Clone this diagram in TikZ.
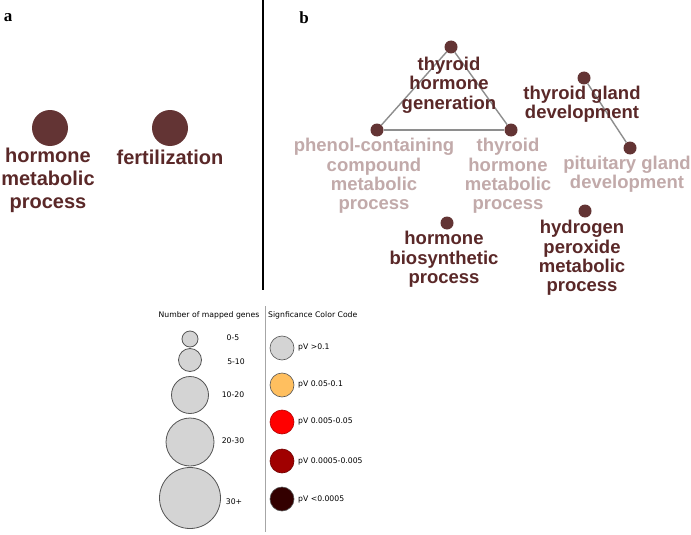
\documentclass[tikz,border=0pt]{standalone}
\usepackage{fontspec}
\newfontfamily\labfont{Liberation Sans}
\newfontfamily\legfont{DejaVu Sans}
\newfontfamily\panfont{Liberation Serif}
\definecolor{dotc}{HTML}{633434}
\definecolor{darklab}{HTML}{5A2828}
\definecolor{lightlab}{HTML}{C2AAAA}
\definecolor{edgec}{HTML}{8E8E8E}
\definecolor{legfill}{HTML}{D4D4D4}
\definecolor{legedge}{HTML}{555555}
\definecolor{cOrange}{HTML}{FFBF5F}
\definecolor{cRed}{HTML}{FF0000}
\definecolor{cDark}{HTML}{A00000}
\definecolor{cDarkest}{HTML}{330000}
\tikzset{
  bigdot/.style={circle,fill=dotc,minimum size=36pt,inner sep=0pt},
  smalldot/.style={circle,fill=dotc,minimum size=13pt,inner sep=0pt},
  alab/.style={font=\labfont\bfseries\fontsize{20}{23}\selectfont,text=darklab,align=center,inner sep=0pt},
  blab/.style={font=\labfont\bfseries\fontsize{18.5}{19.4}\selectfont,text=darklab,align=center,inner sep=0pt},
  blight/.style={blab,text=lightlab},
  edge/.style={draw=edgec,line width=1.4pt},
  panel/.style={font=\panfont\bfseries\fontsize{17}{18}\selectfont,inner sep=0pt},
  sizec/.style={circle,draw=legedge,line width=0.8pt,fill=legfill,inner sep=0pt},
  colc/.style={circle,draw=legedge,line width=0.6pt,minimum size=24pt,inner sep=0pt},
  legtext/.style={font=\legfont\fontsize{7.7}{9}\selectfont,inner sep=0pt},
}
\begin{document}
\begin{tikzpicture}[x=1pt,y=-1pt]
\useasboundingbox[fill=white] (0,0) rectangle (691,535);
% separator
\coordinate (sepT) at (263,0);
\coordinate (sepB) at (263,290);
\draw[line width=1.2pt] (sepT) -- (sepB);
\node[panel] (pa) at (8,18) {a};
\node[panel] (pb) at (304,18) {b};
% panel a
\node[bigdot] (hmp) at (50,128) {};
\node[bigdot] (fer) at (170,128) {};
\node[alab] (hmpL) at (48,180) {hormone\\metabolic\\process};
\node[alab] (ferL) at (170,157) {fertilization};
% panel b dots
\node[smalldot] (thg) at (451,47) {};
\node[smalldot] (pcc) at (377,130) {};
\node[smalldot] (thm) at (511,130) {};
\node[smalldot] (tgd) at (584,78) {};
\node[smalldot] (pgd) at (630,148) {};
\node[smalldot] (hpm) at (585,211) {};
\node[smalldot] (hbp) at (447,223) {};
\draw[edge] (thg) -- (pcc);
\draw[edge] (thg) -- (thm);
\draw[edge] (pcc) -- (thm);
\draw[edge] (tgd) -- (pgd);
% panel b labels
\node[blight] (pccL) at (374,176) {phenol-containing\\compound\\metabolic\\process};
\node[blight] (thmL) at (508,176) {thyroid\\hormone\\metabolic\\process};
\node[blight] (pgdL) at (627,174.5) {pituitary gland\\development};
\node[blab] (thgL) at (449,85) {thyroid\\hormone\\generation};
\node[blab] (tgdL) at (582,104.5) {thyroid gland\\development};
\node[blab] (hbpL) at (444,259.5) {hormone\\biosynthetic\\process};
\node[blab] (hpmL) at (582,258) {hydrogen\\peroxide\\metabolic\\process};
% legend
\coordinate (lsT) at (265,306);
\coordinate (lsB) at (265,532);
\draw[draw=gray!70,line width=0.8pt] (lsT) -- (lsB);
\node[legtext] (lh1) at (209,315) {Number of mapped genes};
\node[legtext,anchor=west] (lh2) at (268,315) {Signficance Color Code};
\node[sizec,minimum size=16pt] (s1) at (190,339) {};
\node[sizec,minimum size=23pt] (s2) at (190,360) {};
\node[sizec,minimum size=37pt] (s3) at (190,395) {};
\node[sizec,minimum size=48pt] (s4) at (190,442) {};
\node[sizec,minimum size=61pt] (s5) at (190,498) {};
\node[legtext] (t1) at (233,338) {0-5};
\node[legtext] (t2) at (236,362) {5-10};
\node[legtext] (t3) at (233,395) {10-20};
\node[legtext] (t4) at (233,441) {20-30};
\node[legtext] (t5) at (234,502) {30+};
\node[colc,fill=legfill] (c1) at (282,348) {};
\node[colc,fill=cOrange] (c2) at (282,385) {};
\node[colc,fill=cRed,draw=cRed!70!black] (c3) at (282,422) {};
\node[colc,fill=cDark,draw=cDark!70!black] (c4) at (282,461) {};
\node[colc,fill=cDarkest] (c5) at (282,499) {};
\node[legtext,anchor=west] (ct1) at (298,347) {pV >0.1};
\node[legtext,anchor=west] (ct2) at (298,384) {pV 0.05-0.1};
\node[legtext,anchor=west] (ct3) at (298,421) {pV 0.005-0.05};
\node[legtext,anchor=west] (ct4) at (298,461) {pV 0.0005-0.005};
\node[legtext,anchor=west] (ct5) at (298,499) {pV <0.0005};
\end{tikzpicture}
\end{document}
